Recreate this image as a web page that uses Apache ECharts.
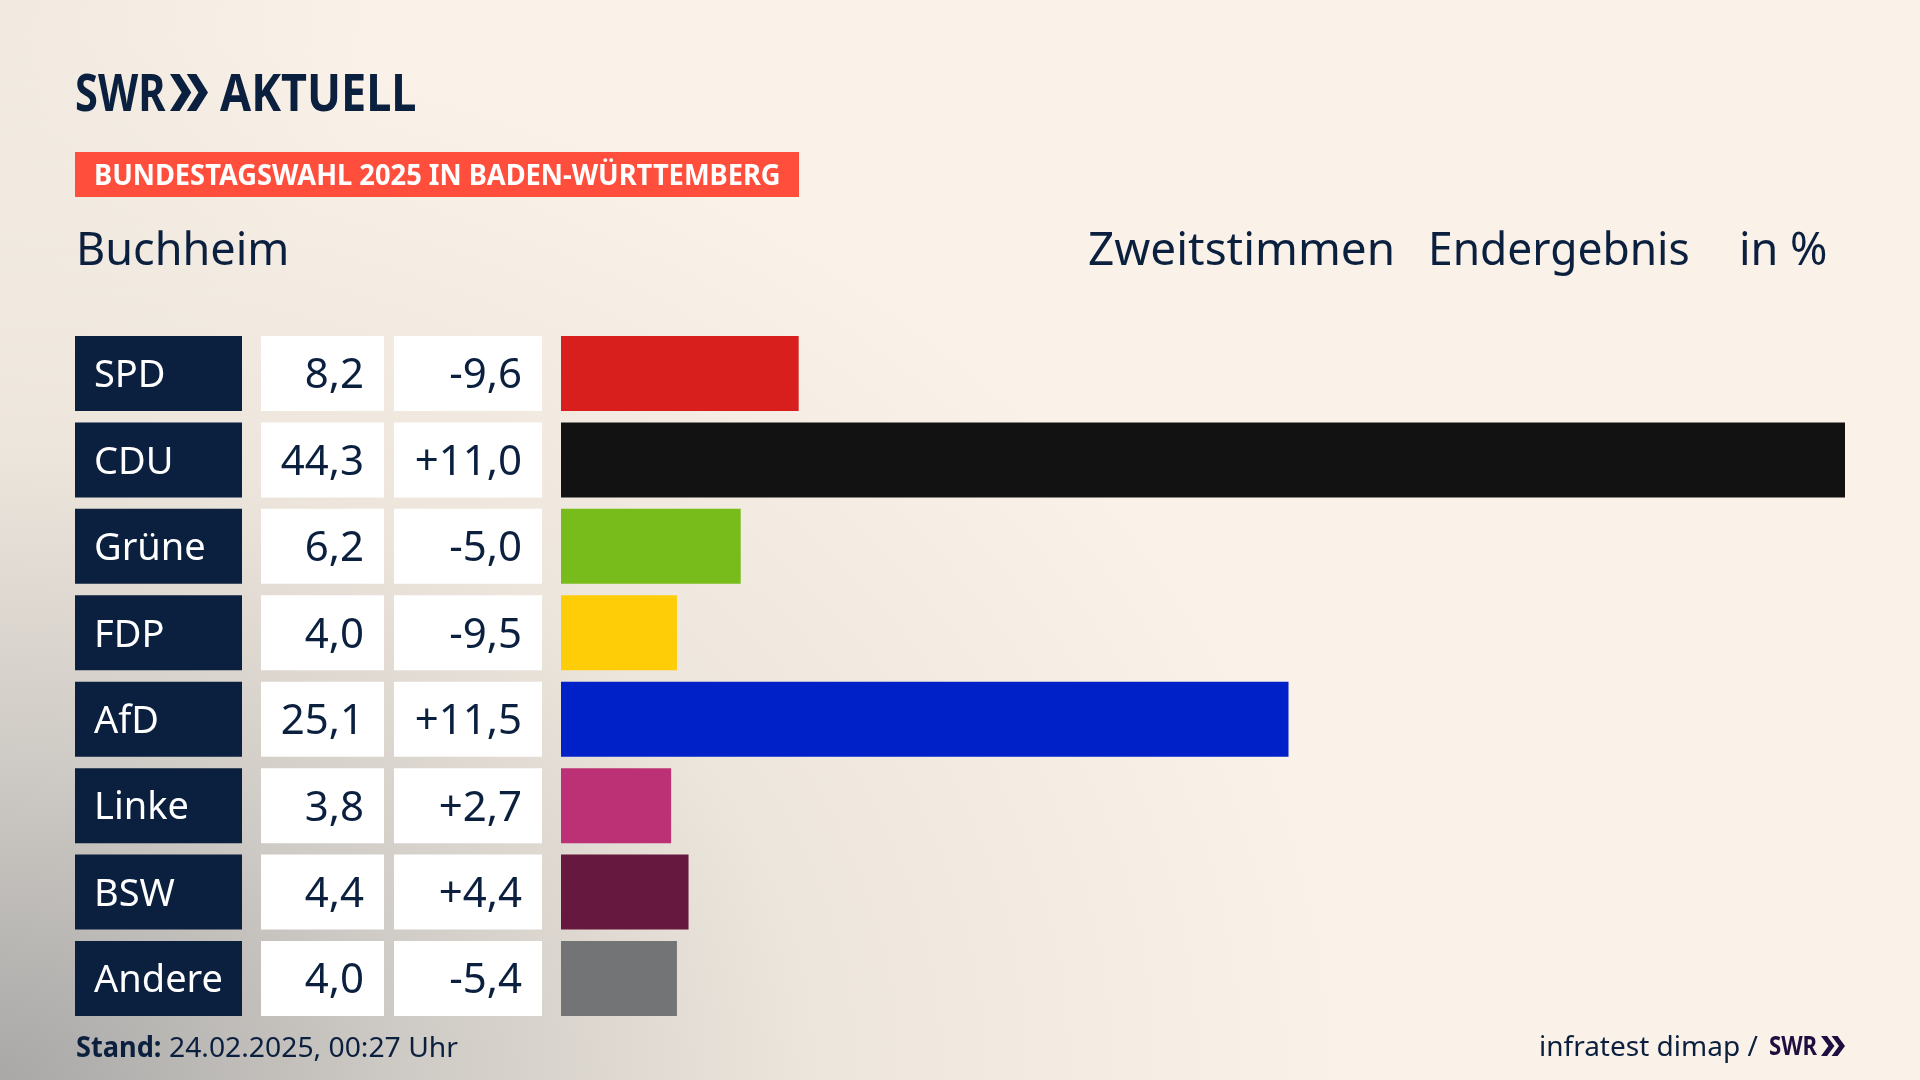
<!DOCTYPE html>
<html>
<head>
<meta charset="utf-8">
<title>Bundestagswahl 2025 Buchheim</title>
<script src="https://cdn.jsdelivr.net/npm/echarts@6/dist/echarts.min.js"></script>
<style>
  html, body { margin: 0; padding: 0; }
  #chart {
    width: 1920px; height: 1080px;
    background:
      radial-gradient(ellipse 1350px 1050px at 0px 1080px, rgba(160,160,160,0.9) 0, rgba(195,192,188,0.8) 30%, rgba(228,221,212,0.6) 60%, rgba(250,242,232,0) 100%),
      radial-gradient(circle 380px at 0px 0px, rgba(228,221,212,0.4) 0, rgba(250,242,232,0) 100%),
      #faf2e8;
  }
</style>
</head>
<body>
<div id="chart"></div>
<script>
var parties = ['SPD', 'CDU', 'Grüne', 'FDP', 'AfD', 'Linke', 'BSW', 'Andere'];
var shares = [8.2, 44.3, 6.2, 4.0, 25.1, 3.8, 4.4, 4.0];
var changes = [-9.6, 11.0, -5.0, -9.5, 11.5, 2.7, 4.4, -5.4];
var barColors = ['#d81f1d', '#121212', '#78bc1b', '#ffcc08', '#0021c8', '#bc3075', '#66183e', '#737476'];

var NAVY = '#0b1f3f';
var FONT = '"Noto Sans"';
var gridTop = 330.3, gridHeight = 691.4, barH = 75;

function fmt(v) { return v.toFixed(1).replace('.', ','); }
function fmtDiff(v) { return (v > 0 ? '+' : '') + fmt(v); }

// table columns: box is the bar background, text is the axis label
function column(i, left, width, labels, values, boxColor, textColor, pos, margin, size) {
  return {
    grid: { left: left, width: width, top: gridTop, height: gridHeight },
    xAxis: { gridIndex: i, type: 'value', show: false, min: 0, max: 100 },
    yAxis: {
      gridIndex: i, type: 'category', inverse: true, data: labels, position: pos, z: 5,
      axisLine: { show: false }, axisTick: { show: false },
      axisLabel: {
        inside: true, margin: margin, align: pos === 'left' ? 'left' : 'right', verticalAlign: 'middle',
        formatter: '{t|{value}}',
        rich: { t: { color: textColor, fontFamily: FONT, fontSize: size, padding: [6, 0, 0, 0] } }
      }
    },
    series: {
      type: 'bar', xAxisIndex: i, yAxisIndex: i, data: values, barWidth: barH, silent: true,
      itemStyle: { color: 'transparent' },
      showBackground: true, backgroundStyle: { color: boxColor }
    }
  };
}

var cols = [
  column(0, 75, 167, parties, shares, NAVY, '#ffffff', 'left', 19, 38),
  column(1, 261, 123, shares.map(fmt), shares, '#ffffff', NAVY, 'right', 20, 42),
  column(2, 394, 148, changes.map(fmtDiff), changes, '#ffffff', NAVY, 'right', 20, 42)
];

function text(x, y, str, size, weight, color, scaleX) {
  return {
    type: 'text', x: x, y: y, scaleX: scaleX || 1, silent: true,
    style: {
      text: str, fontFamily: FONT, fontSize: size, fontWeight: weight || 'normal',
      fill: color || NAVY, align: 'left', verticalAlign: 'middle'
    }
  };
}

// the two SWR arrows
function chevrons(x, y, w, h, color) {
  var a = w * 0.56, t = w * 0.44, out = [];
  [0, t].forEach(function (dx) {
    out.push({
      type: 'polygon', silent: true,
      shape: { points: [[x + dx, y], [x + dx + a * 0.45, y], [x + dx + a, y + h / 2], [x + dx + a * 0.45, y + h], [x + dx, y + h], [x + dx + a * 0.55, y + h / 2]] },
      style: { fill: color }
    });
  });
  return out;
}

var graphics = [
  { type: 'rect', silent: true, shape: { x: 75, y: 152, width: 724, height: 45 }, style: { fill: '#ff4f3c' } },
  text(94, 177, 'BUNDESTAGSWAHL 2025 IN BADEN-WÜRTTEMBERG', 29, 'bold', '#ffffff', 0.94),
  text(75, 96, 'SWR', 52, 'bold', NAVY, 0.8),
  text(220, 96, 'AKTUELL', 52, 'bold', NAVY, 0.865),
  text(76, 252, 'Buchheim', 45),
  text(1088, 252, 'Zweitstimmen', 45, 'normal', NAVY, 1.02),
  text(1428, 252, 'Endergebnis', 45, 'normal', NAVY, 0.985),
  text(1739, 252, 'in %', 45),
  text(76, 1049, 'Stand:', 28, 'bold', NAVY, 0.97),
  text(169, 1049, '24.02.2025, 00:27 Uhr', 28, 'normal', NAVY, 1.01),
  text(1539, 1048, 'infratest dimap /', 28, 'normal', NAVY, 1.0),
  text(1769, 1047, 'SWR', 27, 'bold', '#1e0f40', 0.82)
].concat(chevrons(170, 74, 38, 37, NAVY), chevrons(1821, 1036, 24, 20, '#1e0f40'));

var option = {
  animation: false,
  grid: cols.map(function (c) { return c.grid; }).concat({ left: 561, width: 1284, top: gridTop, height: gridHeight }),
  xAxis: cols.map(function (c) { return c.xAxis; }).concat({ gridIndex: 3, type: 'value', show: false, min: 0, max: 44.3 }),
  yAxis: cols.map(function (c) { return c.yAxis; }).concat({ gridIndex: 3, type: 'category', inverse: true, data: parties, show: false }),
  series: cols.map(function (c) { return c.series; }).concat({
    type: 'bar', xAxisIndex: 3, yAxisIndex: 3, barWidth: barH, silent: true,
    data: shares.map(function (v, i) { return { value: v, itemStyle: { color: barColors[i] } }; })
  }),
  graphic: graphics
};

var chart = echarts.init(document.getElementById('chart'));
chart.setOption(option);
</script>
</body>
</html>
